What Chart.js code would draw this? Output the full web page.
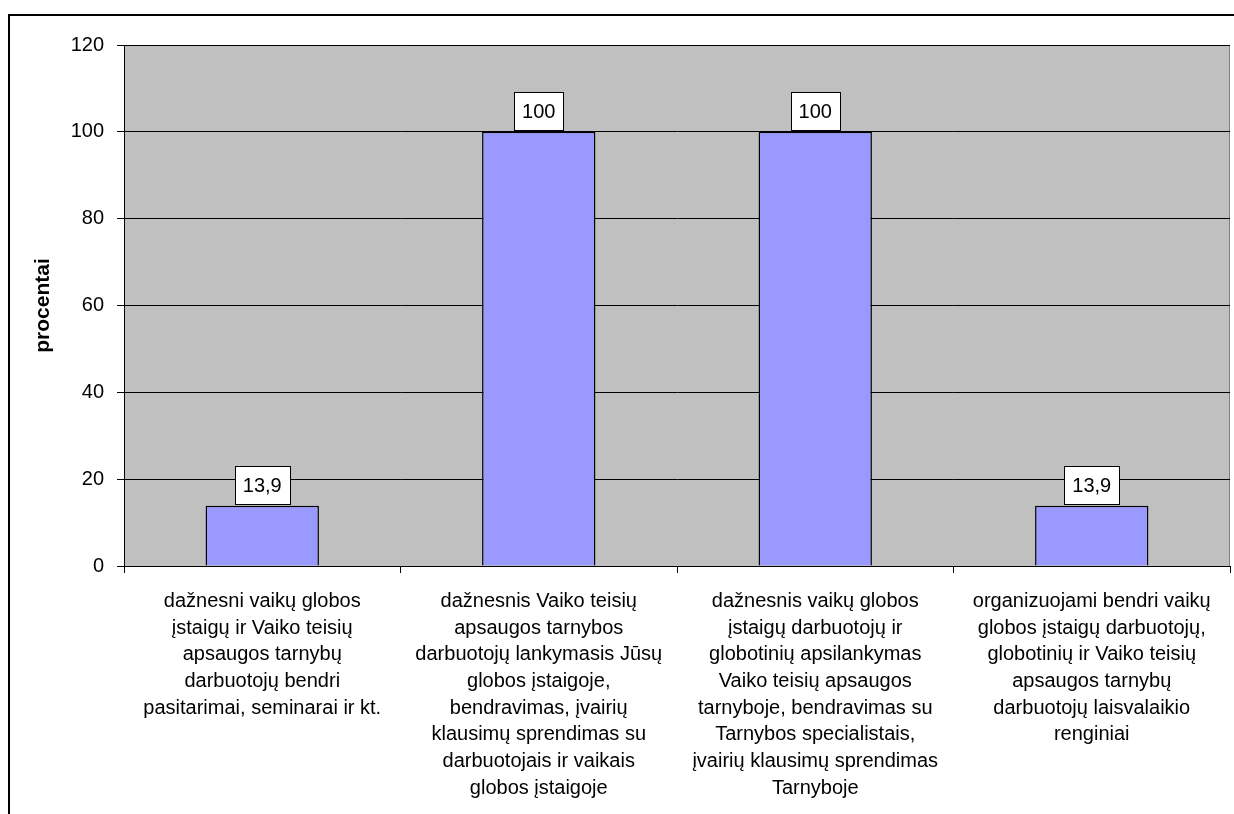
<!DOCTYPE html>
<html>
<head>
<meta charset="utf-8">
<script src="https://cdn.jsdelivr.net/npm/chart.js@4.4.1/dist/chart.umd.min.js"></script>
<style>
  html, body { margin: 0; padding: 0; background: #fff; }
  #wrap { width: 1234px; height: 814px; }
</style>
</head>
<body>
<div id="wrap"><canvas id="chart" width="1234" height="814"></canvas></div>
<script>
// Duomenys
const categories = [
    ['dažnesni vaikų globos', 'įstaigų ir Vaiko teisių', 'apsaugos tarnybų', 'darbuotojų bendri', 'pasitarimai, seminarai ir kt.'],
    ['dažnesnis Vaiko teisių', 'apsaugos tarnybos', 'darbuotojų lankymasis Jūsų', 'globos įstaigoje,', 'bendravimas, įvairių', 'klausimų sprendimas su', 'darbuotojais ir vaikais', 'globos įstaigoje'],
    ['dažnesnis vaikų globos', 'įstaigų darbuotojų ir', 'globotinių apsilankymas', 'Vaiko teisių apsaugos', 'tarnyboje, bendravimas su', 'Tarnybos specialistais,', 'įvairių klausimų sprendimas', 'Tarnyboje'],
    ['organizuojami bendri vaikų', 'globos įstaigų darbuotojų,', 'globotinių ir Vaiko teisių', 'apsaugos tarnybų', 'darbuotojų laisvalaikio', 'renginiai']
];
const values = [13.9, 100, 100, 13.9];
const valueLabels = ['13,9', '100', '100', '13,9'];
const yTicks = [0, 20, 40, 60, 80, 100, 120];

const FONT = "'Liberation Sans', Arial, sans-serif";

// Pilkas fonas ir rėmelis
const plotBackground = {
    id: 'plotBackground',
    beforeDraw(chart) {
        const { ctx, chartArea: a } = chart;
        ctx.save();
        ctx.fillStyle = '#c0c0c0';
        ctx.fillRect(a.left, a.top, a.right - a.left, a.bottom - a.top);
        ctx.strokeStyle = '#808080';
        ctx.lineWidth = 1;
        ctx.strokeRect(a.left + 0.5, a.top + 0.5, a.right - a.left - 1, a.bottom - a.top);
        // išorinis rėmelis
        ctx.strokeStyle = '#000';
        ctx.lineWidth = 2;
        ctx.beginPath();
        ctx.moveTo(9, 814);
        ctx.lineTo(9, 15);
        ctx.lineTo(1234, 15);
        ctx.stroke();
        ctx.restore();
    }
};

// Reikšmių etiketės baltuose langeliuose
const valueBoxes = {
    id: 'valueBoxes',
    afterDatasetsDraw(chart) {
        const { ctx } = chart;
        const meta = chart.getDatasetMeta(0);
        ctx.save();
        ctx.font = '20px ' + FONT;
        ctx.textAlign = 'center';
        ctx.textBaseline = 'middle';
        meta.data.forEach((bar, i) => {
            const text = valueLabels[i];
            const w = Math.round(ctx.measureText(text).width + 16);
            const h = 38;
            const x = Math.round(bar.x - w / 2);
            const y = Math.round(bar.y - 2 - h);
            ctx.fillStyle = '#fff';
            ctx.fillRect(x, y, w, h);
            ctx.strokeStyle = '#000';
            ctx.lineWidth = 1;
            ctx.strokeRect(x + 0.5, y + 0.5, w, h);
            ctx.fillStyle = '#000';
            ctx.fillText(text, bar.x, y + h / 2 + 1);
        });
        ctx.restore();
    }
};

const chart = new Chart(document.getElementById('chart'), {
    type: 'bar',
    data: {
        labels: categories,
        datasets: [{
            data: values,
            backgroundColor: '#9999ff',
            borderColor: '#000',
            borderWidth: 1.5,
            barPercentage: 0.41,
            categoryPercentage: 1
        }]
    },
    options: {
        responsive: false,
        animation: false,
        layout: { padding: { left: 0, top: 45, right: 4, bottom: 0 } },
        plugins: {
            legend: { display: false },
            tooltip: { enabled: false }
        },
        scales: {
            x: {
                grid: {
                    display: true,
                    drawOnChartArea: false,
                    drawTicks: true,
                    tickLength: 7,
                    offset: true,
                    color: '#000'
                },
                border: { color: '#000', width: 1 },
                ticks: {
                    color: '#000',
                    font: { family: FONT, size: 20, lineHeight: 1.335 },
                    padding: 15,
                    maxRotation: 0,
                    minRotation: 0,
                    autoSkip: false
                },
                afterFit(scale) { scale.height = 248; }
            },
            y: {
                min: 0,
                max: 120,
                afterBuildTicks(scale) { scale.ticks = yTicks.map(v => ({ value: v })); },
                grid: {
                    color: '#000',
                    lineWidth: 1,
                    tickLength: 7,
                    drawTicks: true
                },
                border: { color: '#000', width: 1 },
                ticks: {
                    color: '#000',
                    font: { family: FONT, size: 20 },
                    padding: 13
                },
                title: {
                    display: true,
                    text: 'procentai',
                    color: '#000',
                    font: { family: FONT, size: 21, weight: 'bold' },
                    padding: { top: 31, bottom: 0 }
                },
                afterFit(scale) { scale.width = 124; }
            }
        }
    },
    plugins: [plotBackground, valueBoxes]
});
</script>
</body>
</html>
